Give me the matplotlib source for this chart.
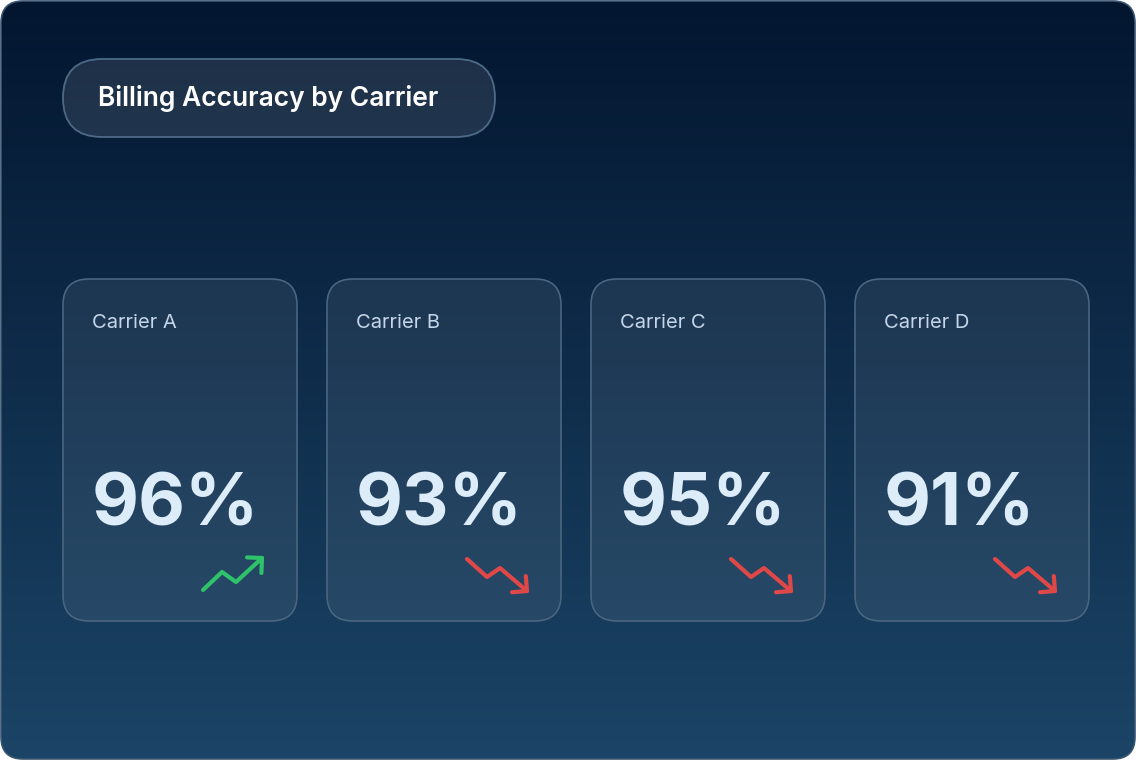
import numpy as np
import matplotlib
matplotlib.use("Agg")
import matplotlib.pyplot as plt
from matplotlib.patches import FancyBboxPatch

title = "Billing Accuracy by Carrier"
carriers = ["Carrier A", "Carrier B", "Carrier C", "Carrier D"]
accuracy = [96, 93, 95, 91]
trend = ["up", "down", "down", "down"]

W, H = 1136, 760
fig = plt.figure(figsize=(W/100, H/100), dpi=100)
fig.patch.set_facecolor("white")
ax = fig.add_axes([0, 0, 1, 1])
ax.set_xlim(0, W); ax.set_ylim(H, 0); ax.axis("off")

top = np.array([0x03, 0x16, 0x30]) / 255
bot = np.array([0x1b, 0x44, 0x66]) / 255
t = np.linspace(0, 1, 256)[:, None]
grad = top[None, :] * (1 - t) + bot[None, :] * t
img = np.repeat(grad[:, None, :], 2, axis=1)
im = ax.imshow(img, extent=[0, W, H, 0], aspect="auto", zorder=0)
clip = FancyBboxPatch((1, 1), W - 2, H - 2, boxstyle="round,pad=0,rounding_size=22",
                      transform=ax.transData, facecolor="none", edgecolor="#3a5570", lw=1.2, zorder=1)
ax.add_patch(clip)
im.set_clip_path(clip)

ax.add_patch(FancyBboxPatch((63, 59), 432, 78, boxstyle="round,pad=0,rounding_size=39",
                            facecolor="#ffffff", alpha=0.10, edgecolor="none", zorder=2))
ax.add_patch(FancyBboxPatch((63, 59), 432, 78, boxstyle="round,pad=0,rounding_size=39",
                            facecolor="none", edgecolor="#4d6a86", lw=1.3, zorder=3))
ax.text(98, 99, title, color="white", fontsize=19, fontfamily="Inter", fontweight="semibold",
        va="center", ha="left", zorder=4)

def rot(v, ang):
    c, s = np.cos(ang), np.sin(ang)
    return np.array([c * v[0] - s * v[1], s * v[0] + c * v[1]])

card_x = [63, 327, 591, 855]
cw, ch, cy = 234, 342, 279
up_shape = np.array([(0, 33), (19, 15), (33, 25), (59, 1)])
down_shape = np.array([(0, 0), (20, 18), (33, 9), (60, 32)])
for i, (name, val, tr) in enumerate(zip(carriers, accuracy, trend)):
    x0 = card_x[i]
    ax.add_patch(FancyBboxPatch((x0, cy), cw, ch, boxstyle="round,pad=0,rounding_size=26",
                                facecolor="#ffffff", alpha=0.07, edgecolor="none", zorder=2))
    ax.add_patch(FancyBboxPatch((x0, cy), cw, ch, boxstyle="round,pad=0,rounding_size=26",
                                facecolor="none", edgecolor="#4a6580", lw=1.2, zorder=3))
    ax.text(x0 + 29, 323, name, color="#c4d6e8", fontsize=14.5, fontfamily="Inter",
            va="center", ha="left", zorder=4)
    ax.text(x0 + 29, 506, f"{val}%", color="#dcecf8", fontsize=52, fontfamily="Inter",
            fontweight="bold", va="center", ha="left", zorder=4)
    if tr == "up":
        pts = up_shape + np.array([x0 + 140, 557])
        col = "#2ec26a"
    else:
        pts = down_shape + np.array([x0 + 140, 559])
        col = "#e04848"
    ax.plot(pts[:, 0], pts[:, 1], color=col, lw=3, solid_capstyle="round",
            solid_joinstyle="round", zorder=5)
    tip = pts[-1].astype(float)
    d = tip - pts[-2]; d = d / np.hypot(*d)
    back = -d * 15
    h1 = tip + rot(back, np.pi / 4)
    h2 = tip + rot(back, -np.pi / 4)
    ax.plot([h1[0], tip[0], h2[0]], [h1[1], tip[1], h2[1]], color=col, lw=3,
            solid_capstyle="round", solid_joinstyle="round", zorder=5)

fig.savefig("out.png", dpi=100)
